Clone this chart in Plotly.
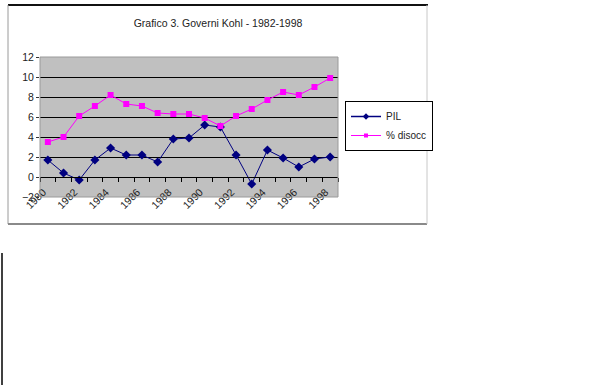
import plotly.graph_objects as go

years = list(range(1980, 1999))
pil = [1.7, 0.4, -0.3, 1.7, 2.9, 2.2, 2.2, 1.5, 3.8, 3.9, 5.2, 5.0, 2.2, -0.7, 2.7, 1.9, 1.0, 1.8, 2.0]
disocc = [3.5, 4.0, 6.1, 7.1, 8.2, 7.3, 7.1, 6.4, 6.3, 6.3, 5.9, 5.1, 6.1, 6.8, 7.7, 8.5, 8.2, 9.0, 9.9]
tick_years = list(range(1980, 1999, 2))
y_ticks = list(range(-2, 13, 2))
series_names = ["PIL", "% disocc"]
title_text = "Grafico 3. Governi Kohl - 1982-1998"

FONT = "Liberation Sans, Arial, sans-serif"
NAVY = "#000080"
MAGENTA = "#FF00FF"

fig = go.Figure()
fig.add_trace(go.Scatter(
    x=years, y=pil, name=series_names[0], mode="lines+markers", showlegend=False,
    line=dict(color=NAVY, width=1),
    marker=dict(symbol="diamond", size=7, color=NAVY),
))
fig.add_trace(go.Scatter(
    x=years, y=disocc, name=series_names[1], mode="lines+markers", showlegend=False,
    line=dict(color=MAGENTA, width=1),
    marker=dict(symbol="square", size=6, color=MAGENTA),
))
# legend entries (smaller legend symbols, as in the reference)
fig.add_trace(go.Scatter(
    x=[None], y=[None], name=series_names[0], mode="lines+markers",
    line=dict(color=NAVY, width=1.5),
    marker=dict(symbol="diamond", size=5, color=NAVY),
))
fig.add_trace(go.Scatter(
    x=[None], y=[None], name=series_names[1], mode="lines+markers",
    line=dict(color=MAGENTA, width=1),
    marker=dict(symbol="square", size=4, color=MAGENTA),
))

# pixel -> paper helpers (plot area: x 40..338, y 57..197)
def px(x):
    return (x - 40) / 298.0

def py(y):
    return (197 - y) / 140.0

shapes = [
    # plot area border
    dict(type="rect", xref="paper", yref="paper", x0=0, x1=1, y0=0, y1=1,
         line=dict(color="#9a9a9a", width=1), layer="above"),
    # chart area frame
    dict(type="line", xref="paper", yref="paper", x0=px(8), x1=px(428), y0=py(5), y1=py(5),
         line=dict(color="#111111", width=2)),
    dict(type="line", xref="paper", yref="paper", x0=px(8), x1=px(8), y0=py(5), y1=py(224),
         line=dict(color="#9a9a9a", width=1)),
    dict(type="line", xref="paper", yref="paper", x0=px(8), x1=px(427), y0=py(224), y1=py(224),
         line=dict(color="#8a8a8a", width=2)),
    dict(type="line", xref="paper", yref="paper", x0=px(427), x1=px(427), y0=py(5), y1=py(224),
         line=dict(color="#c8c8c8", width=1)),
    # vertical rule below the chart
    dict(type="line", xref="paper", yref="paper", x0=px(2), x1=px(2), y0=py(253), y1=py(385),
         line=dict(color="#000000", width=1.5)),
]

fig.update_layout(
    width=590, height=387,
    margin=dict(l=40, r=252, t=57, b=190, autoexpand=False),
    paper_bgcolor="white",
    plot_bgcolor="#c0c0c0",
    font=dict(family=FONT, size=10, color="#222222"),
    title=dict(text=title_text, x=px(218), xanchor="center", xref="paper",
               y=1 - 23 / 387.0, yanchor="middle", yref="container",
               font=dict(size=10.5, color="#222222")),
    showlegend=True,
    legend=dict(x=px(345), y=py(101), xanchor="left", yanchor="top",
                bordercolor="#000000", borderwidth=1, bgcolor="white",
                font=dict(size=10, color="#222222"), itemwidth=30,
                tracegroupgap=0),
    shapes=shapes,
    xaxis=dict(
        range=[1979.5, 1998.5],
        automargin=False,
        anchor="free", position=2 / 14.0,
        tickmode="array", tickvals=[v - 0.3 for v in tick_years],
        ticktext=[str(v) for v in tick_years],
        tickangle=-45,
        ticks="outside", ticklen=4, tickcolor="rgba(0,0,0,0)",
        showline=True, linecolor="#000000", linewidth=1,
        showgrid=False, zeroline=False,
        minor=dict(tickvals=[1979.5 + k for k in range(20)], ticks="outside",
                   ticklen=4, tickcolor="#000000", tickwidth=1, showgrid=False),
        tickfont=dict(size=10.5, color="#222222"),
    ),
    yaxis=dict(
        range=[-2, 12],
        automargin=False,
        tickmode="array", tickvals=y_ticks,
        ticks="outside", ticklen=3, tickcolor="#333333",
        showgrid=True, gridcolor="#000000", gridwidth=1,
        zeroline=True, zerolinecolor="#000000", zerolinewidth=1,
        showline=False,
        tickfont=dict(size=10.5, color="#222222"),
    ),
)

fig.write_html(
    "out.html",
    config={"displayModeBar": False},
    post_script="document.body.style.margin='0';document.body.style.overflow='hidden';",
)
